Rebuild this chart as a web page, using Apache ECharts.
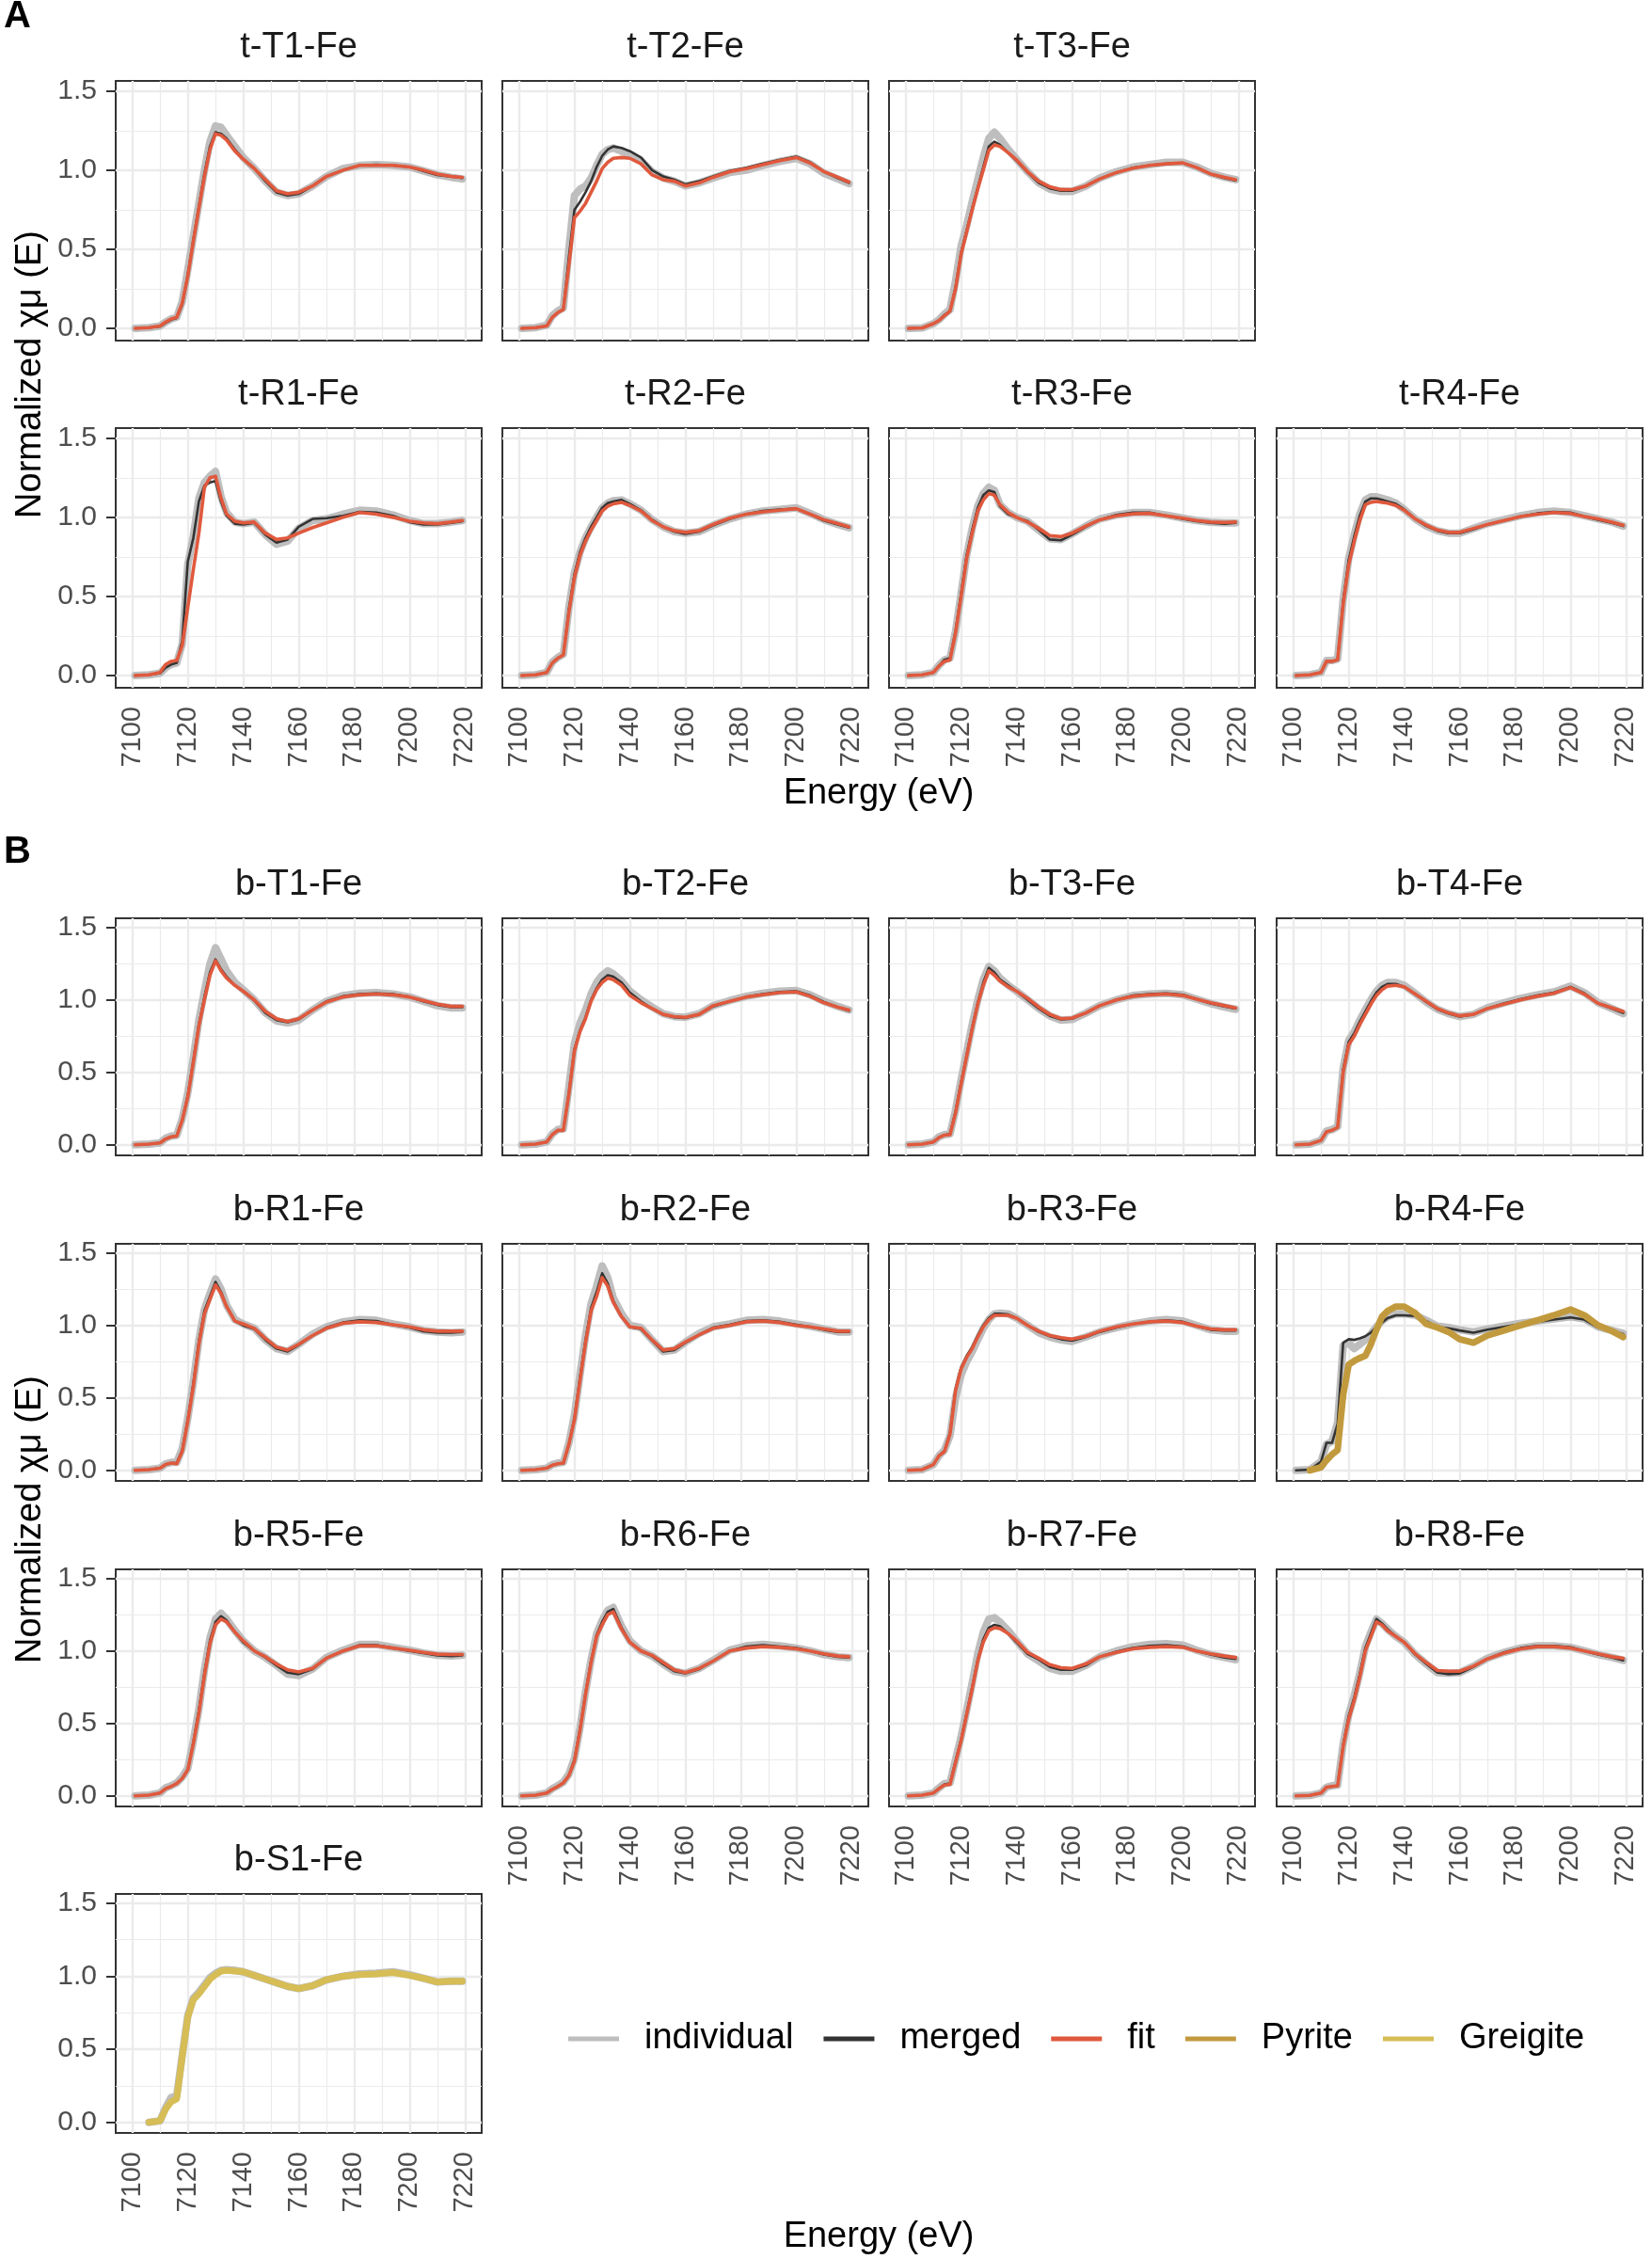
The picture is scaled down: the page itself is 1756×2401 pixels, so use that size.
<!DOCTYPE html>
<html>
<head>
<meta charset="utf-8">
<script src="https://cdn.jsdelivr.net/npm/echarts@6/dist/echarts.min.js"></script>
<style>
html, body { margin: 0; padding: 0; background: #fff; }
#main { width: 1756px; height: 2401px; }
</style>
</head>
<body>
<div id="main"></div>
<script>
// energy grid (eV) shared by every panel
const energy = [7101, 7106, 7110, 7112, 7114, 7116, 7118, 7120, 7122, 7124, 7126, 7128, 7130, 7132, 7134, 7137, 7140, 7144, 7148, 7152, 7156, 7160, 7165, 7170, 7176, 7182, 7188, 7194, 7200, 7205, 7210, 7215, 7219];
const xTicks = [7100, 7120, 7140, 7160, 7180, 7200, 7220];
const xMinor = [7110, 7130, 7150, 7170, 7190, 7210];
const yTicks = [0, 0.5, 1, 1.5];
const yMinor = [0.25, 0.75, 1.25];

// ---- A: t- samples
const fit_tT1 = [0,0.005,0.015,0.04,0.06,0.07,0.16,0.33,0.55,0.76,0.96,1.13,1.23,1.22,1.19,1.12,1.07,1.01,0.94,0.87,0.85,0.86,0.9,0.96,1.0,1.03,1.03,1.03,1.02,1.0,0.975,0.96,0.955];
const merged_tT1 = [0,0.005,0.012,0.035,0.055,0.065,0.15,0.34,0.56,0.77,0.98,1.15,1.24,1.23,1.2,1.13,1.07,1.01,0.93,0.86,0.84,0.85,0.9,0.96,1.0,1.03,1.035,1.03,1.02,0.995,0.97,0.96,0.95];
const indiv_tT1 = [0,0.005,0.015,0.04,0.06,0.07,0.17,0.37,0.58,0.79,1.0,1.18,1.28,1.27,1.22,1.15,1.08,1.01,0.93,0.86,0.84,0.85,0.9,0.96,1.01,1.03,1.035,1.03,1.02,0.995,0.97,0.955,0.945];

const fit_tT2 = [0,0.005,0.015,0.07,0.1,0.12,0.4,0.7,0.74,0.79,0.86,0.93,1.01,1.05,1.075,1.08,1.075,1.04,0.97,0.94,0.93,0.9,0.92,0.955,0.99,1.01,1.035,1.06,1.08,1.045,0.99,0.955,0.925];
const merged_tT2 = [0,0.005,0.015,0.07,0.1,0.12,0.45,0.75,0.8,0.86,0.93,1.02,1.09,1.13,1.15,1.14,1.12,1.08,1.0,0.96,0.94,0.91,0.93,0.96,0.995,1.015,1.04,1.065,1.085,1.05,0.99,0.95,0.92];
const indiv_tT2 = [0,0.005,0.02,0.08,0.11,0.13,0.5,0.84,0.88,0.9,0.95,1.03,1.1,1.13,1.14,1.12,1.1,1.06,0.99,0.95,0.93,0.9,0.92,0.95,0.985,1.0,1.03,1.055,1.075,1.04,0.98,0.945,0.915];

const fit_tT3 = [0,0.003,0.03,0.05,0.08,0.11,0.25,0.47,0.61,0.75,0.88,1.0,1.125,1.16,1.15,1.11,1.065,0.99,0.93,0.895,0.878,0.877,0.9,0.945,0.985,1.013,1.03,1.04,1.046,1.016,0.976,0.955,0.94];
const merged_tT3 = [0,0.003,0.03,0.05,0.085,0.11,0.26,0.48,0.62,0.76,0.89,1.02,1.15,1.18,1.16,1.11,1.06,0.985,0.92,0.885,0.87,0.87,0.9,0.945,0.985,1.015,1.03,1.04,1.045,1.015,0.975,0.95,0.935];
const indiv_tT3 = [0,0.003,0.03,0.055,0.09,0.12,0.3,0.52,0.65,0.8,0.94,1.08,1.2,1.24,1.2,1.13,1.07,0.99,0.92,0.88,0.865,0.865,0.9,0.95,0.99,1.02,1.035,1.05,1.05,1.02,0.98,0.955,0.94];

const fit_tR1 = [0,0.005,0.02,0.07,0.09,0.095,0.19,0.43,0.67,0.9,1.19,1.25,1.26,1.12,1.02,0.975,0.965,0.97,0.9,0.86,0.87,0.9,0.935,0.965,1.0,1.03,1.02,1.0,0.975,0.965,0.96,0.97,0.98];
const merged_tR1 = [0,0.005,0.015,0.05,0.07,0.08,0.22,0.72,0.87,1.1,1.2,1.22,1.23,1.1,1.01,0.96,0.955,0.965,0.89,0.84,0.86,0.94,0.99,0.995,1.01,1.035,1.03,1.01,0.97,0.955,0.955,0.965,0.975];
const indiv_tR1 = [0,0.005,0.015,0.05,0.07,0.08,0.2,0.7,0.88,1.12,1.22,1.26,1.29,1.13,1.03,0.97,0.96,0.97,0.89,0.83,0.85,0.93,0.98,0.99,1.02,1.045,1.04,1.015,0.98,0.96,0.96,0.97,0.98];

const fit_tR2 = [0,0.005,0.02,0.08,0.11,0.13,0.4,0.62,0.76,0.85,0.92,0.98,1.04,1.07,1.085,1.095,1.075,1.04,0.98,0.94,0.915,0.905,0.915,0.955,0.995,1.02,1.035,1.045,1.055,1.02,0.985,0.96,0.94];
const merged_tR2 = [0,0.005,0.02,0.08,0.11,0.13,0.42,0.64,0.78,0.87,0.94,1.0,1.06,1.09,1.1,1.11,1.085,1.045,0.985,0.94,0.91,0.895,0.91,0.95,0.99,1.02,1.04,1.05,1.055,1.02,0.98,0.955,0.935];
const indiv_tR2 = [0,0.005,0.02,0.085,0.115,0.135,0.43,0.65,0.78,0.87,0.94,1.0,1.06,1.09,1.105,1.11,1.085,1.045,0.985,0.94,0.91,0.9,0.91,0.95,0.99,1.02,1.04,1.05,1.06,1.025,0.985,0.955,0.935];

const fit_tR3 = [0,0.005,0.02,0.06,0.09,0.1,0.27,0.5,0.74,0.9,1.04,1.11,1.15,1.14,1.08,1.03,1.0,0.97,0.93,0.885,0.878,0.9,0.945,0.985,1.01,1.022,1.025,1.01,0.995,0.98,0.97,0.968,0.97];
const merged_tR3 = [0,0.005,0.02,0.06,0.1,0.11,0.28,0.52,0.76,0.92,1.06,1.14,1.17,1.16,1.07,1.02,1.0,0.975,0.92,0.86,0.855,0.89,0.94,0.985,1.015,1.03,1.03,1.01,0.99,0.975,0.965,0.96,0.965];
const indiv_tR3 = [0,0.005,0.02,0.065,0.1,0.11,0.28,0.52,0.76,0.93,1.07,1.15,1.19,1.17,1.08,1.03,1.0,0.975,0.92,0.865,0.86,0.895,0.945,0.99,1.015,1.03,1.03,1.015,0.995,0.98,0.97,0.965,0.965];

const fit_tR4 = [0,0.005,0.02,0.09,0.09,0.1,0.45,0.7,0.85,0.98,1.08,1.095,1.1,1.095,1.09,1.075,1.045,0.99,0.95,0.92,0.905,0.905,0.93,0.955,0.98,1.005,1.02,1.03,1.025,1.005,0.99,0.97,0.95];
const merged_tR4 = [0,0.005,0.02,0.09,0.09,0.1,0.47,0.73,0.88,1.01,1.1,1.12,1.12,1.11,1.1,1.085,1.05,0.99,0.945,0.915,0.9,0.9,0.925,0.955,0.98,1.005,1.025,1.035,1.03,1.005,0.985,0.965,0.945];
const indiv_tR4 = [0,0.005,0.02,0.095,0.095,0.105,0.48,0.74,0.89,1.02,1.11,1.13,1.13,1.12,1.11,1.09,1.05,0.99,0.945,0.915,0.9,0.9,0.93,0.96,0.985,1.01,1.03,1.04,1.03,1.01,0.99,0.97,0.945];

// ---- B: b- samples
const fit_bT1 = [0,0.005,0.013,0.04,0.055,0.06,0.17,0.33,0.57,0.82,1.0,1.17,1.27,1.2,1.15,1.1,1.06,1.0,0.92,0.87,0.85,0.87,0.93,0.985,1.02,1.035,1.04,1.035,1.02,0.995,0.97,0.955,0.955];
const merged_bT1 = [0,0.005,0.013,0.04,0.055,0.06,0.17,0.34,0.58,0.83,1.02,1.19,1.28,1.21,1.16,1.1,1.06,0.995,0.91,0.86,0.845,0.865,0.93,0.99,1.025,1.04,1.045,1.04,1.02,0.99,0.965,0.95,0.95];
const indiv_bT1 = [0,0.005,0.013,0.045,0.06,0.065,0.18,0.36,0.6,0.86,1.06,1.25,1.36,1.28,1.2,1.12,1.07,1.0,0.91,0.855,0.84,0.86,0.93,0.99,1.03,1.045,1.05,1.04,1.02,0.99,0.96,0.945,0.945];

const fit_bT2 = [0,0.005,0.02,0.07,0.1,0.1,0.35,0.65,0.78,0.87,0.99,1.07,1.12,1.15,1.14,1.1,1.03,0.98,0.94,0.9,0.885,0.88,0.9,0.96,0.99,1.02,1.035,1.05,1.055,1.025,0.98,0.95,0.93];
const merged_bT2 = [0,0.005,0.02,0.07,0.1,0.1,0.36,0.66,0.79,0.88,1.0,1.08,1.14,1.17,1.16,1.12,1.05,0.99,0.94,0.9,0.88,0.875,0.9,0.955,0.99,1.02,1.04,1.055,1.06,1.03,0.985,0.95,0.925];
const indiv_bT2 = [0,0.005,0.02,0.075,0.105,0.11,0.4,0.7,0.84,0.93,1.04,1.12,1.17,1.2,1.18,1.13,1.06,1.0,0.95,0.905,0.885,0.88,0.905,0.96,0.995,1.025,1.045,1.06,1.065,1.035,0.99,0.955,0.93];

const fit_bT3 = [0,0.005,0.02,0.05,0.067,0.07,0.22,0.42,0.61,0.8,0.97,1.1,1.2,1.17,1.13,1.09,1.06,1.01,0.95,0.9,0.87,0.875,0.91,0.96,1.0,1.025,1.035,1.04,1.03,1.005,0.98,0.96,0.945];
const merged_bT3 = [0,0.005,0.02,0.05,0.067,0.075,0.23,0.43,0.62,0.81,0.98,1.12,1.22,1.19,1.14,1.1,1.06,1.0,0.94,0.89,0.865,0.87,0.91,0.96,1.0,1.03,1.04,1.045,1.035,1.005,0.975,0.955,0.94];
const indiv_bT3 = [0,0.005,0.02,0.055,0.07,0.075,0.24,0.45,0.64,0.83,1.0,1.14,1.23,1.2,1.15,1.1,1.06,1.0,0.94,0.89,0.86,0.865,0.91,0.96,1.0,1.03,1.04,1.045,1.035,1.005,0.975,0.95,0.935];

const fit_bT4 = [0,0.005,0.03,0.09,0.1,0.12,0.5,0.69,0.75,0.83,0.9,0.97,1.03,1.07,1.095,1.1,1.09,1.04,0.99,0.94,0.91,0.89,0.9,0.94,0.97,1.0,1.025,1.045,1.085,1.04,0.975,0.945,0.92];
const merged_bT4 = [0,0.005,0.03,0.09,0.1,0.12,0.52,0.71,0.77,0.85,0.92,0.99,1.05,1.09,1.11,1.11,1.09,1.04,0.985,0.935,0.905,0.885,0.9,0.94,0.975,1.005,1.03,1.05,1.09,1.045,0.975,0.94,0.91];
const indiv_bT4 = [0,0.005,0.03,0.095,0.105,0.125,0.53,0.72,0.78,0.86,0.93,1.0,1.06,1.1,1.12,1.12,1.1,1.045,0.985,0.935,0.905,0.885,0.9,0.945,0.98,1.01,1.035,1.055,1.095,1.05,0.98,0.94,0.905];

const fit_bR1 = [0,0.005,0.015,0.04,0.05,0.045,0.13,0.34,0.58,0.87,1.08,1.18,1.28,1.22,1.13,1.03,1.01,0.98,0.91,0.85,0.83,0.87,0.93,0.98,1.015,1.025,1.02,1.005,0.99,0.97,0.96,0.96,0.96];
const merged_bR1 = [0,0.005,0.015,0.04,0.05,0.05,0.14,0.35,0.6,0.89,1.1,1.2,1.3,1.23,1.13,1.03,1.0,0.975,0.9,0.84,0.82,0.865,0.93,0.985,1.02,1.035,1.03,1.005,0.985,0.96,0.95,0.95,0.955];
const indiv_bR1 = [0,0.005,0.015,0.045,0.055,0.055,0.15,0.36,0.61,0.9,1.11,1.22,1.32,1.25,1.14,1.04,1.01,0.98,0.9,0.84,0.82,0.87,0.94,0.99,1.025,1.04,1.035,1.01,0.99,0.965,0.955,0.95,0.955];

const fit_bR2 = [0,0.005,0.015,0.035,0.045,0.05,0.18,0.35,0.62,0.88,1.1,1.2,1.33,1.27,1.16,1.06,0.99,0.98,0.9,0.83,0.84,0.885,0.935,0.98,1.0,1.025,1.03,1.02,1.0,0.99,0.975,0.96,0.96];
const merged_bR2 = [0,0.005,0.015,0.035,0.045,0.05,0.18,0.36,0.64,0.9,1.12,1.23,1.36,1.29,1.17,1.06,0.99,0.975,0.895,0.82,0.83,0.88,0.935,0.985,1.005,1.03,1.035,1.025,1.005,0.99,0.97,0.955,0.955];
const indiv_bR2 = [0,0.005,0.015,0.04,0.05,0.055,0.19,0.38,0.66,0.93,1.15,1.27,1.41,1.33,1.19,1.08,1.0,0.985,0.9,0.82,0.83,0.885,0.945,0.99,1.01,1.035,1.04,1.03,1.01,0.995,0.975,0.955,0.955];

const fit_bR3 = [0,0.005,0.04,0.1,0.13,0.25,0.55,0.7,0.78,0.84,0.92,0.99,1.04,1.07,1.07,1.07,1.05,1.0,0.96,0.93,0.915,0.905,0.925,0.96,0.99,1.01,1.025,1.03,1.02,0.995,0.975,0.97,0.97];
const merged_bR3 = [0,0.005,0.04,0.1,0.135,0.26,0.56,0.71,0.79,0.85,0.93,1.0,1.05,1.08,1.08,1.075,1.05,1.0,0.955,0.925,0.905,0.895,0.92,0.955,0.985,1.01,1.025,1.035,1.025,0.995,0.97,0.965,0.965];
const indiv_bR3 = [0,0.005,0.04,0.1,0.14,0.24,0.5,0.66,0.75,0.82,0.9,0.98,1.04,1.08,1.085,1.08,1.05,1.0,0.95,0.92,0.9,0.89,0.92,0.955,0.985,1.01,1.03,1.04,1.03,1.0,0.97,0.96,0.96];

const merged_bR4 = [0,0.005,0.06,0.19,0.19,0.32,0.88,0.905,0.9,0.91,0.925,0.95,0.99,1.02,1.05,1.07,1.07,1.065,1.03,0.99,0.98,0.965,0.95,0.97,0.99,1.01,1.025,1.04,1.055,1.04,0.985,0.965,0.94];
const indiv_bR4 = [0,0.005,0.06,0.18,0.2,0.33,0.86,0.88,0.84,0.87,0.9,0.94,0.99,1.03,1.06,1.08,1.08,1.07,1.035,0.995,0.985,0.97,0.955,0.975,0.995,1.015,1.03,1.045,1.06,1.045,0.99,0.965,0.945];
const pyrite_bR4 = [null,0.0,0.02,0.07,0.11,0.14,0.52,0.73,0.755,0.775,0.79,0.87,0.97,1.06,1.1,1.13,1.13,1.085,1.01,0.985,0.955,0.905,0.88,0.93,0.965,1.0,1.035,1.07,1.11,1.07,1.0,0.96,0.92];

const fit_bR5 = [0,0.005,0.02,0.05,0.065,0.085,0.12,0.18,0.36,0.57,0.83,1.05,1.18,1.22,1.2,1.13,1.07,1.0,0.96,0.91,0.87,0.855,0.88,0.95,1.0,1.035,1.035,1.02,1.005,0.99,0.978,0.975,0.975];
const merged_bR5 = [0,0.005,0.02,0.05,0.065,0.085,0.12,0.18,0.37,0.59,0.85,1.07,1.2,1.24,1.21,1.13,1.06,1.0,0.955,0.9,0.85,0.84,0.875,0.95,1.0,1.04,1.04,1.02,1.0,0.985,0.97,0.965,0.97];
const indiv_bR5 = [0,0.005,0.02,0.055,0.07,0.09,0.13,0.19,0.38,0.6,0.87,1.09,1.22,1.26,1.22,1.14,1.07,1.0,0.955,0.9,0.84,0.83,0.875,0.955,1.005,1.045,1.045,1.025,1.005,0.985,0.97,0.965,0.97];

const fit_bR6 = [0,0.005,0.02,0.045,0.065,0.09,0.14,0.24,0.45,0.7,0.92,1.1,1.18,1.25,1.27,1.15,1.06,1.0,0.97,0.92,0.87,0.85,0.88,0.93,1.0,1.02,1.03,1.025,1.015,1.0,0.98,0.965,0.96];
const merged_bR6 = [0,0.005,0.02,0.045,0.065,0.09,0.14,0.25,0.46,0.71,0.93,1.11,1.2,1.27,1.29,1.16,1.06,1.0,0.965,0.91,0.86,0.845,0.875,0.93,1.0,1.03,1.04,1.03,1.02,1.0,0.975,0.96,0.955];
const indiv_bR6 = [0,0.005,0.02,0.05,0.07,0.095,0.15,0.26,0.47,0.72,0.94,1.12,1.21,1.28,1.3,1.17,1.07,1.0,0.965,0.91,0.86,0.845,0.88,0.935,1.005,1.035,1.045,1.035,1.02,1.0,0.975,0.96,0.955];

const fit_bR7 = [0,0.005,0.02,0.05,0.075,0.08,0.23,0.38,0.56,0.74,0.93,1.06,1.14,1.16,1.155,1.12,1.07,0.99,0.95,0.905,0.885,0.88,0.91,0.96,0.99,1.015,1.025,1.03,1.025,1.0,0.98,0.965,0.955];
const merged_bR7 = [0,0.005,0.02,0.05,0.08,0.085,0.24,0.39,0.57,0.75,0.94,1.08,1.16,1.18,1.17,1.12,1.06,0.98,0.94,0.89,0.87,0.87,0.9,0.96,0.995,1.02,1.035,1.04,1.03,1.0,0.975,0.955,0.945];
const indiv_bR7 = [0,0.005,0.02,0.055,0.085,0.09,0.25,0.41,0.59,0.78,0.98,1.13,1.22,1.23,1.2,1.14,1.07,0.98,0.93,0.88,0.86,0.86,0.9,0.96,1.0,1.03,1.045,1.05,1.04,1.005,0.975,0.955,0.94];

const fit_bR8 = [0,0.003,0.02,0.06,0.065,0.07,0.34,0.53,0.66,0.82,1.0,1.1,1.2,1.18,1.14,1.1,1.06,0.98,0.92,0.865,0.86,0.86,0.895,0.945,0.985,1.015,1.03,1.03,1.02,1.0,0.98,0.96,0.95];
const merged_bR8 = [0,0.003,0.02,0.06,0.065,0.07,0.35,0.55,0.68,0.84,1.02,1.12,1.22,1.19,1.15,1.1,1.06,0.975,0.91,0.85,0.84,0.845,0.89,0.945,0.99,1.02,1.035,1.035,1.025,1.0,0.975,0.955,0.935];
const indiv_bR8 = [0,0.003,0.02,0.06,0.07,0.075,0.36,0.56,0.69,0.85,1.03,1.13,1.22,1.19,1.15,1.1,1.06,0.975,0.91,0.85,0.845,0.85,0.895,0.95,0.99,1.02,1.035,1.035,1.025,1.0,0.975,0.955,0.935];

const indiv_bS1 = [null,0.0,0.01,0.1,0.17,0.18,0.46,0.73,0.85,0.89,0.94,0.99,1.02,1.04,1.045,1.04,1.03,1.005,0.98,0.955,0.93,0.915,0.935,0.975,1.0,1.015,1.02,1.03,1.01,0.985,0.96,0.965,0.965];
const greigite_bS1 = [null,0.0,0.01,0.09,0.14,0.16,0.45,0.72,0.84,0.88,0.93,0.98,1.01,1.035,1.04,1.035,1.03,1.005,0.98,0.955,0.93,0.915,0.935,0.975,1.0,1.01,1.015,1.025,1.005,0.985,0.96,0.965,0.965];

const panels = [
  { name: 't-T1-Fe', row: 0, col: 0, indiv: indiv_tT1, merged: merged_tT1, fit: fit_tT1 },
  { name: 't-T2-Fe', row: 0, col: 1, indiv: indiv_tT2, merged: merged_tT2, fit: fit_tT2 },
  { name: 't-T3-Fe', row: 0, col: 2, indiv: indiv_tT3, merged: merged_tT3, fit: fit_tT3 },
  { name: 't-R1-Fe', row: 1, col: 0, indiv: indiv_tR1, merged: merged_tR1, fit: fit_tR1, xlab: true },
  { name: 't-R2-Fe', row: 1, col: 1, indiv: indiv_tR2, merged: merged_tR2, fit: fit_tR2, xlab: true },
  { name: 't-R3-Fe', row: 1, col: 2, indiv: indiv_tR3, merged: merged_tR3, fit: fit_tR3, xlab: true },
  { name: 't-R4-Fe', row: 1, col: 3, indiv: indiv_tR4, merged: merged_tR4, fit: fit_tR4, xlab: true },
  { name: 'b-T1-Fe', row: 2, col: 0, indiv: indiv_bT1, merged: merged_bT1, fit: fit_bT1 },
  { name: 'b-T2-Fe', row: 2, col: 1, indiv: indiv_bT2, merged: merged_bT2, fit: fit_bT2 },
  { name: 'b-T3-Fe', row: 2, col: 2, indiv: indiv_bT3, merged: merged_bT3, fit: fit_bT3 },
  { name: 'b-T4-Fe', row: 2, col: 3, indiv: indiv_bT4, merged: merged_bT4, fit: fit_bT4 },
  { name: 'b-R1-Fe', row: 3, col: 0, indiv: indiv_bR1, merged: merged_bR1, fit: fit_bR1 },
  { name: 'b-R2-Fe', row: 3, col: 1, indiv: indiv_bR2, merged: merged_bR2, fit: fit_bR2 },
  { name: 'b-R3-Fe', row: 3, col: 2, indiv: indiv_bR3, merged: merged_bR3, fit: fit_bR3 },
  { name: 'b-R4-Fe', row: 3, col: 3, indiv: indiv_bR4, merged: merged_bR4, ref: pyrite_bR4, refName: 'Pyrite' },
  { name: 'b-R5-Fe', row: 4, col: 0, indiv: indiv_bR5, merged: merged_bR5, fit: fit_bR5 },
  { name: 'b-R6-Fe', row: 4, col: 1, indiv: indiv_bR6, merged: merged_bR6, fit: fit_bR6, xlab: true },
  { name: 'b-R7-Fe', row: 4, col: 2, indiv: indiv_bR7, merged: merged_bR7, fit: fit_bR7, xlab: true },
  { name: 'b-R8-Fe', row: 4, col: 3, indiv: indiv_bR8, merged: merged_bR8, fit: fit_bR8, xlab: true },
  { name: 'b-S1-Fe', row: 5, col: 0, indiv: indiv_bS1, ref: greigite_bS1, refName: 'Greigite', xlab: true }
];

const FONT = '"Liberation Sans", Arial, Helvetica, sans-serif';
const colLeft = [123, 534, 945, 1357];
const panelW = 389;
const rowTop = [86, 455, 976, 1322, 1668, 2013];
const rowH = [276, 276, 252, 252, 252, 254];
const colors = { individual: '#BEBEBE', merged: '#333333', fit: '#E0593D', Pyrite: '#C29A3E', Greigite: '#D6BD56' };

const grids = [], xAxes = [], yAxes = [], series = [], graphics = [];

const gridLines = [
  ...xTicks.map(v => ({ xAxis: v, lineStyle: { width: 2.4 } })),
  ...xMinor.map(v => ({ xAxis: v, lineStyle: { width: 1.2 } })),
  ...yTicks.map(v => ({ yAxis: v, lineStyle: { width: 2.4 } })),
  ...yMinor.map(v => ({ yAxis: v, lineStyle: { width: 1.2 } }))
];

function pts(arr) {
  return energy.map((e, i) => [e, arr[i] == null ? null : arr[i]]);
}

function lineSeries(name, idx, arr, width, z, extra) {
  return Object.assign({
    type: 'line', name: name, xAxisIndex: idx, yAxisIndex: idx,
    data: pts(arr), symbol: 'none', showSymbol: false, silent: true,
    animation: false, z: z, connectNulls: false,
    lineStyle: { color: colors[name], width: width, join: 'round', cap: 'round' },
    itemStyle: { color: colors[name] },
    emphasis: { disabled: true }
  }, extra || {});
}

panels.forEach((p, i) => {
  const left = colLeft[p.col], top = rowTop[p.row], h = rowH[p.row];
  const isA = p.row < 2;
  grids.push({ left: left, top: top, width: panelW, height: h, show: true,
    backgroundColor: '#fff', borderColor: '#333333', borderWidth: 2, containLabel: false });
  xAxes.push({
    type: 'value', gridIndex: i, min: 7094, max: 7226,
    axisLine: { show: false }, splitLine: { show: false },
    axisTick: { show: !!p.xlab, length: 10, lineStyle: { color: '#333333', width: 2 }, customValues: xTicks },
    axisLabel: { show: !!p.xlab, customValues: xTicks, rotate: 90, margin: 20, fontSize: 29,
      color: '#4D4D4D', fontFamily: FONT, formatter: v => String(v) }
  });
  yAxes.push({
    type: 'value', gridIndex: i, min: isA ? -0.077 : -0.073, max: isA ? 1.564 : 1.563,
    axisLine: { show: false }, splitLine: { show: false },
    axisTick: { show: p.col === 0, length: 10, lineStyle: { color: '#333333', width: 2 }, customValues: yTicks },
    axisLabel: { show: p.col === 0, customValues: yTicks, margin: 20, fontSize: 30,
      color: '#4D4D4D', fontFamily: FONT, formatter: v => v.toFixed(1) }
  });
  series.push(lineSeries('individual', i, p.indiv, 8, 2, {
    markLine: { silent: true, symbol: ['none', 'none'], label: { show: false }, animation: false, z: 1,
      lineStyle: { color: '#EBEBEB', type: 'solid' }, emphasis: { disabled: true }, data: gridLines }
  }));
  if (p.merged) series.push(lineSeries('merged', i, p.merged, 2.6, 3));
  if (p.fit) series.push(lineSeries('fit', i, p.fit, 3.6, 4));
  if (p.ref) series.push(lineSeries(p.refName, i, p.ref, 7, 5));

  graphics.push({ type: 'text', x: left + panelW / 2, y: top - 35, silent: true,
    style: { text: p.name, font: '38px ' + FONT, fill: '#1A1A1A', textAlign: 'center', textVerticalAlign: 'middle' } });
});

// panel letters and axis titles
graphics.push(
  { type: 'text', x: 4, y: 18, silent: true, style: { text: 'A', font: 'bold 40px ' + FONT, fill: '#000', textAlign: 'left', textVerticalAlign: 'middle' } },
  { type: 'text', x: 4, y: 906, silent: true, style: { text: 'B', font: 'bold 40px ' + FONT, fill: '#000', textAlign: 'left', textVerticalAlign: 'middle' } },
  { type: 'text', x: 33, y: 398, rotation: Math.PI / 2, silent: true, style: { text: 'Normalized χμ (E)', font: '38px ' + FONT, fill: '#000', textAlign: 'center', textVerticalAlign: 'middle' } },
  { type: 'text', x: 33, y: 1615, rotation: Math.PI / 2, silent: true, style: { text: 'Normalized χμ (E)', font: '38px ' + FONT, fill: '#000', textAlign: 'center', textVerticalAlign: 'middle' } },
  { type: 'text', x: 934, y: 844, silent: true, style: { text: 'Energy (eV)', font: '38px ' + FONT, fill: '#000', textAlign: 'center', textVerticalAlign: 'middle' } },
  { type: 'text', x: 934, y: 2378, silent: true, style: { text: 'Energy (eV)', font: '38px ' + FONT, fill: '#000', textAlign: 'center', textVerticalAlign: 'middle' } }
);

const chart = echarts.init(document.getElementById('main'), null, { renderer: 'canvas', width: 1756, height: 2401 });
chart.setOption({
  backgroundColor: '#ffffff',
  animation: false,
  textStyle: { fontFamily: FONT },
  grid: grids,
  xAxis: xAxes,
  yAxis: yAxes,
  series: series,
  graphic: { elements: graphics },
  legend: {
    left: 599, top: 2143, orient: 'horizontal',
    icon: 'rect', itemWidth: 54, itemHeight: 5, itemGap: 32,
    selectedMode: false,
    textStyle: { fontSize: 38, color: '#000', fontFamily: FONT, padding: [0, 0, 0, 22] },
    data: ['individual', 'merged', 'fit', 'Pyrite', 'Greigite']
  }
});
</script>
</body>
</html>
